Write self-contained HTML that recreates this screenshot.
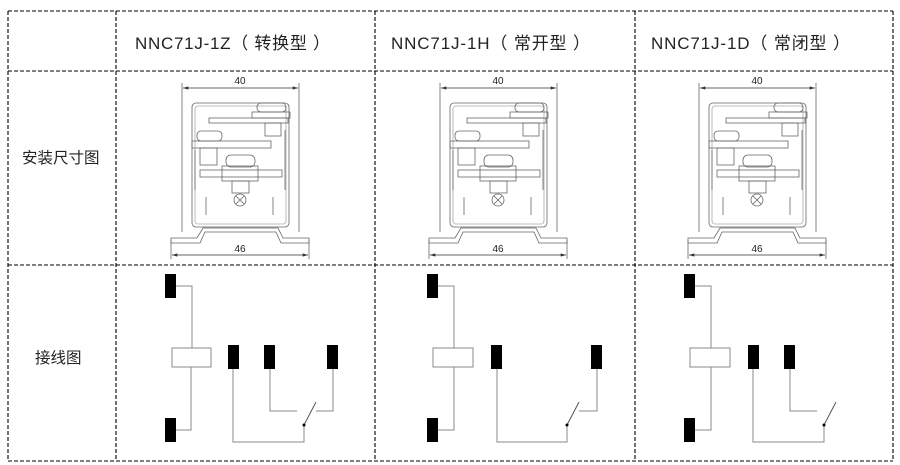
<!DOCTYPE html>
<html><head><meta charset="utf-8"><style>
html,body{margin:0;padding:0;background:#fff;width:900px;height:465px;overflow:hidden}
svg{display:block}
text{font-family:"Liberation Sans","Noto Sans CJK SC",sans-serif;fill:#222}
</style></head><body>
<svg width="900" height="465" viewBox="0 0 900 465" xmlns="http://www.w3.org/2000/svg">
<defs>
<marker id="ar" viewBox="0 0 10 6" refX="10" refY="3" markerWidth="8" markerHeight="4" orient="auto-start-reverse"><path d="M0,0 L10,3 L0,6 Z" fill="#333"/></marker>
<g id="dwg" fill="none" stroke="#666" stroke-width="0.8">
  <line x1="182" y1="83" x2="182" y2="232"/>
  <line x1="299" y1="83" x2="299" y2="232"/>
  <line x1="183" y1="88" x2="298" y2="88" stroke="#333" marker-start="url(#ar)" marker-end="url(#ar)"/>
  <line x1="171" y1="240" x2="171" y2="259"/>
  <line x1="309" y1="240" x2="309" y2="259"/>
  <line x1="172" y1="255" x2="308" y2="255" stroke="#333" marker-start="url(#ar)" marker-end="url(#ar)"/>
  <rect x="192" y="103" width="97" height="124" rx="4"/>
  <rect x="195" y="106" width="91" height="118" rx="3" stroke="#aaa"/>
  <rect x="257" y="103" width="29" height="9" rx="4"/>
  <rect x="252" y="112" width="38" height="6"/>
  <rect x="209" y="118" width="79" height="5"/>
  <rect x="265" y="123" width="16" height="13"/>
  <rect x="197" y="131" width="25" height="10" rx="4"/>
  <rect x="192" y="141" width="79" height="7"/>
  <rect x="200" y="148" width="17" height="17"/>
  <rect x="226" y="155" width="29" height="12" rx="5"/>
  <rect x="222" y="166" width="36" height="15"/>
  <rect x="200" y="170" width="82" height="7"/>
  <rect x="232" y="181" width="17" height="12"/>
  <circle cx="240" cy="200" r="6"/>
  <path d="M236,196 L244,204 M244,196 L236,204"/>
  <line x1="206" y1="197" x2="206" y2="215"/>
  <line x1="273" y1="197" x2="273" y2="215"/>
  <line x1="195" y1="150" x2="195" y2="190"/>
  <line x1="285" y1="130" x2="285" y2="190"/>
  <path d="M171,243 L200,243 L205,232 L276,232 L281,243 L309,243 L309,238 L283,238 L278,228 L203,228 L197,238 L171,238 Z"/>
  <text x="240" y="84" font-size="10" text-anchor="middle" stroke="none">40</text>
  <text x="240" y="252" font-size="10" text-anchor="middle" stroke="none">46</text>
</g>
</defs>
<g fill="none" stroke="#000" stroke-width="1.1" stroke-dasharray="4,2">
  <line x1="8" y1="11" x2="893" y2="11"/>
  <line x1="8" y1="71" x2="893" y2="71"/>
  <line x1="8" y1="265" x2="893" y2="265"/>
  <line x1="8" y1="461" x2="893" y2="461"/>
  <line x1="8" y1="11" x2="8" y2="461"/>
  <line x1="116" y1="11" x2="116" y2="461"/>
  <line x1="375" y1="11" x2="375" y2="461"/>
  <line x1="635" y1="11" x2="635" y2="461"/>
  <line x1="893" y1="11" x2="893" y2="461"/>
</g>
<text x="135" y="49" font-size="17" textLength="195" lengthAdjust="spacing">NNC71J-1Z（ 转换型 ）</text>
<text x="391" y="49" font-size="17" textLength="199" lengthAdjust="spacing">NNC71J-1H（ 常开型 ）</text>
<text x="651" y="49" font-size="17" textLength="199" lengthAdjust="spacing">NNC71J-1D（ 常闭型 ）</text>
<text x="22" y="163" font-size="15.5">安装尺寸图</text>
<text x="35" y="363" font-size="15.5">接线图</text>
<use href="#dwg"/>
<use href="#dwg" transform="translate(258,0)"/>
<use href="#dwg" transform="translate(517,0)"/>
<g fill="none" stroke="#888" stroke-width="1">
  <path d="M176,286 H192 V348"/><rect x="172" y="348" width="39" height="19"/><path d="M191,367 V430 H176"/>
  <path d="M233,369 V442 H304 V425"/><path d="M270,369 V411 H297"/><path d="M333,369 V411 H316"/>
  <path d="M304,425 L316,402" stroke="#555"/>
  <path d="M438,286 H454 V348"/><rect x="433" y="348" width="40" height="19"/><path d="M454,367 V430 H438"/>
  <path d="M497,369 V442 H567 V425"/><path d="M597,369 V411 H579"/><path d="M567,425 L579,402" stroke="#555"/>
  <path d="M695,286 H711 V348"/><rect x="690" y="348" width="40" height="19"/><path d="M711,367 V430 H695"/>
  <path d="M753,369 V442 H824 V425"/><path d="M790,369 V411 H817"/><path d="M824,425 L836,402" stroke="#555"/>
</g>
<g fill="#000">
  <rect x="165" y="274" width="11" height="24"/><rect x="165" y="418" width="11" height="24"/>
  <rect x="228" y="345" width="11" height="24"/><rect x="264" y="345" width="11" height="24"/><rect x="327" y="345" width="11" height="24"/>
  <circle cx="304" cy="425" r="1.5"/>
  <rect x="427" y="274" width="11" height="24"/><rect x="427" y="418" width="11" height="24"/>
  <rect x="491" y="345" width="11" height="24"/><rect x="591" y="345" width="11" height="24"/>
  <circle cx="567" cy="425" r="1.5"/>
  <rect x="684" y="274" width="11" height="24"/><rect x="684" y="418" width="11" height="24"/>
  <rect x="748" y="345" width="11" height="24"/><rect x="784" y="345" width="11" height="24"/>
  <circle cx="824" cy="425" r="1.5"/>
</g>
</svg>
</body></html>
